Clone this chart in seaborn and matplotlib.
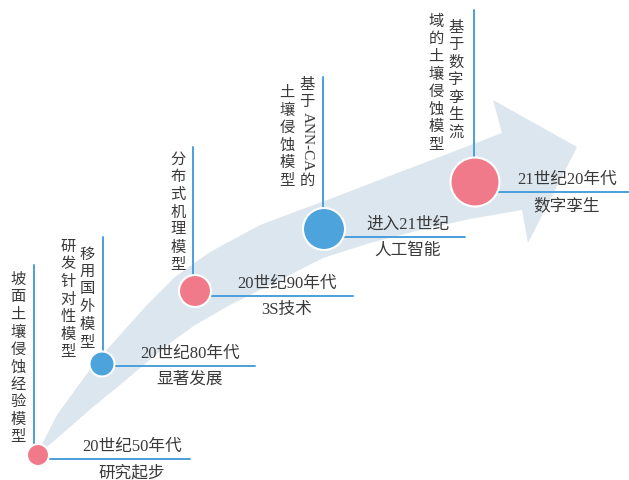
import numpy as np
import pandas as pd
import matplotlib
matplotlib.use("Agg")
import matplotlib.pyplot as plt
from matplotlib.patches import Polygon
import seaborn as sns

# timeline content
eras = ["20世纪50年代", "20世纪80年代", "20世纪90年代", "进入21世纪", "21世纪20年代"]
stages = ["研究起步", "显著发展", "3S技术", "人工智能", "数字孪生"]
models = [
    ["坡面土壤侵蚀经验模型"],
    ["移用国外模型", "研发针对性模型"],
    ["分布式机理模型"],
    ["基于ANN-CA的", "土壤侵蚀模型"],
    ["基于数字孪生流", "域的土壤侵蚀模型"],
]
dot_kind = ["pink", "blue", "pink", "blue", "pink"]

# layout (pixel space, y down)
node_x = [38, 102, 195, 324, 475]
node_y = [455, 364, 291, 229, 182]
node_r = [11, 12.5, 16, 21, 24.5]
stem_x = [34, 103, 193, 323, 474]
stem_top = [265, 237, 147, 77, 10]
branch_y = [459, 366, 296, 237, 192]
branch_end = [190, 255, 353, 465, 629]
label_x = [132, 190, 287, 408, 567]
col_x = [[18], [87, 68], [178], [307, 287], [456, 436]]
col_y0 = [[280], [255, 247], [160], [85, 93], [28, 22]]

upper_edge = [(38, 452), (57, 415), (75, 390), (95, 363), (120, 335), (145, 307),
              (175, 277), (210, 252), (260, 225), (300, 210), (330, 199),
              (400, 172), (450, 153), (502, 133)]
head = [(493, 100), (577, 147), (528, 243)]
lower_edge = [(38, 458), (47, 447), (70, 427), (93, 407), (120, 385), (140, 368),
              (170, 343), (195, 325), (230, 305), (270, 285), (323, 258),
              (370, 243), (420, 230), (470, 219), (522, 210)]

PINK = "#F07A89"
BLUE = "#4DA3DB"
LINE = "#4A9FDB"
BAND = "#DCE6EE"
TEXT = "#3a3a3a"
FAM = ["Liberation Serif", "Noto Sans CJK SC"]
STEP = 17.5
FS = 11

sns.set_style("white")
plt.rcParams["font.family"] = FAM

fig = plt.figure(figsize=(6.29, 4.8), dpi=100)
ax = fig.add_axes([0, 0, 1, 1])
ax.set_xlim(0, 629)
ax.set_ylim(480, 0)
ax.axis("off")

# arrow band
outline = upper_edge + head + lower_edge[::-1]
ax.add_patch(Polygon(outline, closed=True, facecolor=BAND, edgecolor="none", zorder=0))

# stems and branches
for i in range(len(eras)):
    ax.plot([stem_x[i], stem_x[i]], [stem_top[i], node_y[i]], color=LINE, lw=1.4, zorder=1)
    ax.plot([node_x[i], branch_end[i]], [branch_y[i], branch_y[i]], color=LINE, lw=1.4, zorder=1)
    ax.text(label_x[i], branch_y[i] - 12, eras[i], fontsize=12, color=TEXT,
            ha="center", va="center", family=FAM)
    ax.text(label_x[i], branch_y[i] + 14, stages[i], fontsize=12, color=TEXT,
            ha="center", va="center", family=FAM)


def vertical(x, y0, text):
    # stack characters top to bottom, latin runs turned sideways
    tokens = []
    buf = ""
    for ch in text:
        if ord(ch) < 128:
            buf += ch
        else:
            if buf:
                tokens.append(buf)
                buf = ""
            tokens.append(ch)
    if buf:
        tokens.append(buf)
    cursor = y0 - STEP / 2
    for tok in tokens:
        if ord(tok[0]) < 128:
            L = 59 * len(tok) / 6
            ax.text(x, cursor + 1 + L / 2, tok, fontsize=FS, color=TEXT, rotation=-90,
                    ha="center", va="center", family=FAM)
            cursor += L + 2
        else:
            ax.text(x, cursor + STEP / 2, tok, fontsize=FS, color=TEXT,
                    ha="center", va="center", family=FAM)
            cursor += STEP


for i, cols in enumerate(models):
    for j, col in enumerate(cols):
        vertical(col_x[i][j], col_y0[i][j], col)

# nodes
nodes = pd.DataFrame({"x": node_x, "y": node_y, "kind": dot_kind})
sizes = [(2 * r * 0.72) ** 2 for r in node_r]
sns.scatterplot(data=nodes, x="x", y="y", hue="kind", palette={"pink": PINK, "blue": BLUE},
                s=sizes, edgecolor="white", linewidth=1.5, legend=False, ax=ax, zorder=3)
ax.set_xlabel("")
ax.set_ylabel("")
ax.set_xlim(0, 629)
ax.set_ylim(480, 0)

fig.savefig("out.png", dpi=100)
